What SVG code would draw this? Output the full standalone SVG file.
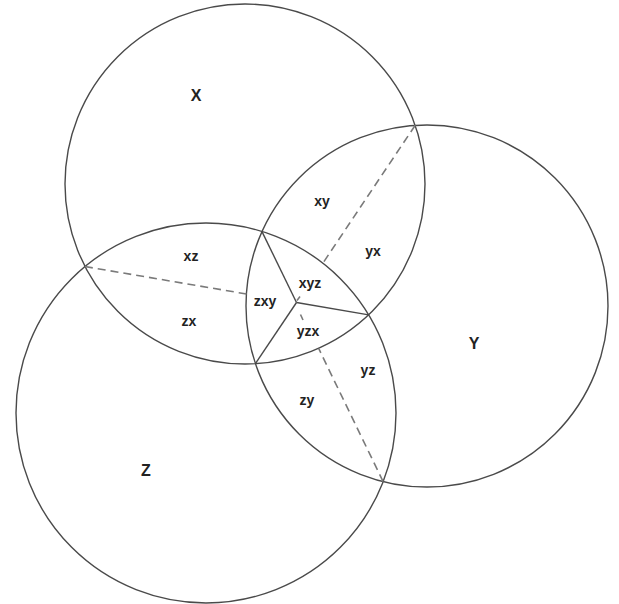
<svg xmlns="http://www.w3.org/2000/svg" width="619" height="604" viewBox="0 0 619 604">
<style>
.c{fill:none;stroke:#4a4a4a;stroke-width:1.4}
.s{stroke:#4a4a4a;stroke-width:1.4;fill:none}
.d{stroke:#7a7a7a;stroke-width:1.6;stroke-dasharray:8 5;fill:none}
.t{font-family:"Liberation Sans",Arial,sans-serif;font-size:14px;font-weight:bold;fill:#222;text-anchor:middle}
.b{font-family:"Liberation Sans",Arial,sans-serif;font-size:16px;font-weight:bold;fill:#222;text-anchor:middle}
</style>
<rect width="619" height="604" fill="#fff"/>
<g id="X"><circle class="c" cx="245" cy="184" r="180"/><text class="b" x="196" y="101">X</text></g>
<g id="Y"><circle class="c" cx="427" cy="306" r="181"/><text class="b" x="474" y="349">Y</text></g>
<g id="Z"><circle class="c" cx="206" cy="413" r="190"/><text class="b" x="146" y="476">Z</text></g>
<g id="connectors">
<line class="s" x1="296.5" y1="302.5" x2="262" y2="231.6"/>
<line class="s" x1="296.5" y1="302.5" x2="368.7" y2="314.9"/>
<line class="s" x1="296.5" y1="302.5" x2="255.4" y2="363.7"/>
<line class="d" x1="84.9" y1="266.5" x2="246.5" y2="294"/>
<line class="d" x1="415.2" y1="125.3" x2="322.4" y2="263.9"/>
<line class="d" x1="383.1" y1="481.6" x2="318.8" y2="348.7"/>
<line class="d" x1="300" y1="296.5" x2="297" y2="300.5" stroke-dasharray="none"/>
<line class="d" x1="300.5" y1="314.5" x2="303" y2="320" stroke-dasharray="none"/>
</g>
<g id="labels">
<text class="t" x="322" y="206">xy</text>
<text class="t" x="373" y="256">yx</text>
<text class="t" x="191" y="261">xz</text>
<text class="t" x="189" y="326">zx</text>
<text class="t" x="310" y="288">xyz</text>
<text class="t" x="265" y="306">zxy</text>
<text class="t" x="308" y="336">yzx</text>
<text class="t" x="368" y="375">yz</text>
<text class="t" x="307" y="405">zy</text>
</g>
</svg>
